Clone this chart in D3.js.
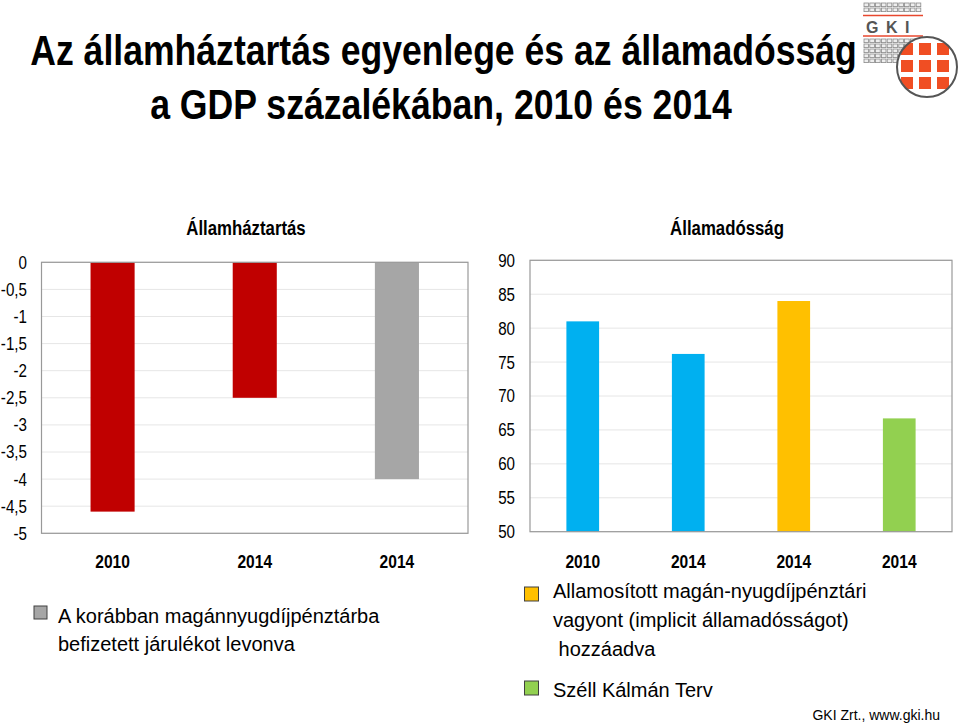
<!DOCTYPE html>
<html><head><meta charset="utf-8">
<script src="https://cdn.jsdelivr.net/npm/d3@7"></script>
<style>
body{margin:0;background:#fff;}
svg{display:block;}
text{font-family:"Liberation Sans",Arial,sans-serif;}
</style></head>
<body>
<svg id="c" width="960" height="723"></svg>
<script>
// ---- data ----
const titleLines = ["Az államháztartás egyenlege és az államadósság", "a GDP százalékában, 2010 és 2014"];
const balanceTitle = "Államháztartás";
const balanceCats = ["2010", "2014", "2014 "];
const balanceValues = [-4.6, -2.5, -4.0];
const balanceColors = ["#c00000", "#c00000", "#a6a6a6"];
const balanceTicks = [0, -0.5, -1, -1.5, -2, -2.5, -3, -3.5, -4, -4.5, -5];

const debtTitle = "Államadósság";
const debtCats = ["2010", "2014", "2014 ", "2014  "];
const debtValues = [81.0, 76.2, 84.0, 66.7];
const debtColors = ["#00b0f0", "#00b0f0", "#ffc000", "#92d050"];
const debtTicks = [50, 55, 60, 65, 70, 75, 80, 85, 90];

const legendLeft = {color: "#a6a6a6", lines: ["A korábban magánnyugdíjpénztárba", "befizetett járulékot levonva"]};
const legendRight = [
  {color: "#ffc000", lines: ["Allamosított magán-nyugdíjpénztári", "vagyont (implicit államadósságot)", " hozzáadva"]},
  {color: "#92d050", lines: ["Széll Kálmán Terv"]}
];
const footer = "GKI Zrt., www.gki.hu";

const svg = d3.select("#c");
const fmt = v => String(v).replace(".", ",");
const NARROW = 0.82;

// ---- title (condensed via horizontal scale to the reference width) ----
const titleLen = [827, 582];
const titleX = [443.5, 441];
svg.append("g").selectAll("text").data(titleLines).join("text")
  .attr("text-anchor", "middle")
  .attr("font-size", 42).attr("font-weight", "bold").attr("fill", "#000")
  .text(d => d)
  .each(function(d, i) {
    const w = this.getComputedTextLength();
    const s = titleLen[i] / w;
    d3.select(this).attr("transform", `translate(${titleX[i]},${65 + i * 54}) scale(${s},1)`);
  });

// ---- generic bar panel ----
function panel(opts) {
  const g = svg.append("g");
  const x = d3.scaleBand().domain(opts.cats).range([opts.x0, opts.x1]).paddingInner(0.69).paddingOuter(0.345);
  const y = d3.scaleLinear().domain(opts.domain).range([opts.yb, opts.yt]);
  // grid
  g.append("g").selectAll("line").data(opts.ticks).join("line")
    .attr("x1", opts.x0).attr("x2", opts.x1)
    .attr("y1", d => y(d)).attr("y2", d => y(d))
    .attr("stroke", "#e6e6e6").attr("stroke-width", 1);
  // bars
  g.append("g").selectAll("rect").data(opts.values).join("rect")
    .attr("x", (d, i) => x(opts.cats[i]))
    .attr("width", x.bandwidth())
    .attr("y", d => Math.min(y(d), y(opts.base)))
    .attr("height", d => Math.abs(y(d) - y(opts.base)))
    .attr("fill", (d, i) => opts.colors[i]);
  // frame
  g.append("rect").attr("x", opts.x0).attr("y", opts.yt).attr("width", opts.x1 - opts.x0).attr("height", opts.yb - opts.yt)
    .attr("fill", "none").attr("stroke", "#999").attr("stroke-width", 1.2);
  // y axis
  const ya = d3.axisLeft(y).tickValues(opts.ticks).tickSize(0).tickPadding(0).tickFormat(fmt);
  const yg = g.append("g").attr("transform", `translate(${opts.labelX},0)`).call(ya);
  yg.select(".domain").remove();
  yg.attr("font-family", null).attr("font-size", null);
  yg.selectAll("text").attr("font-size", 18.5).attr("fill", "#000").attr("transform", `scale(${NARROW},1)`);
  // x axis
  const xa = d3.axisBottom(x).tickSize(0).tickPadding(0);
  const xg = g.append("g").attr("transform", `translate(0,${opts.catY})`).call(xa);
  xg.select(".domain").remove();
  xg.attr("font-family", null).attr("font-size", null);
  xg.selectAll("text").attr("font-size", 19).attr("font-weight", "bold").attr("fill", "#000")
    .attr("dy", null).attr("transform", `scale(${NARROW},1)`);
  // title
  g.append("text").attr("transform", `translate(${opts.titleX},235) scale(0.8,1)`)
    .attr("text-anchor", "middle").attr("font-size", 21).attr("font-weight", "bold").text(opts.title);
}

panel({cats: balanceCats, values: balanceValues, colors: balanceColors, ticks: balanceTicks,
  domain: [-5, 0], base: 0, x0: 41.5, x1: 468, yt: 262.3, yb: 533.3, labelX: 27,
  catY: 568, title: balanceTitle, titleX: 246});
panel({cats: debtCats, values: debtValues, colors: debtColors, ticks: debtTicks,
  domain: [50, 90], base: 50, x0: 530, x1: 952, yt: 260.3, yb: 531.7, labelX: 515,
  catY: 568, title: debtTitle, titleX: 727});

// ---- legends ----
const lg = svg.append("g");
lg.append("rect").attr("x", 34).attr("y", 606).attr("width", 13).attr("height", 13)
  .attr("fill", legendLeft.color).attr("stroke", "#404040").attr("stroke-width", 1);
lg.selectAll("text.l").data(legendLeft.lines).join("text")
  .attr("x", 58).attr("y", (d, i) => 623 + i * 28).attr("font-size", 20).attr("fill", "#000").text(d => d);

legendRight.forEach((item, k) => {
  const top = k === 0 ? 587 : 681;
  lg.append("rect").attr("x", 524.5).attr("y", top).attr("width", 14).attr("height", 14)
    .attr("fill", item.color).attr("stroke", "#404040").attr("stroke-width", 1);
  item.lines.forEach((t, i) => {
    lg.append("text").attr("x", 553).attr("y", (k === 0 ? 598 : 697) + i * 29)
      .attr("font-size", 20).attr("fill", "#000").style("white-space", "pre").text(t);
  });
});

svg.append("text").attr("x", 940).attr("y", 720).attr("text-anchor", "end")
  .attr("font-size", 14).attr("fill", "#000").text(footer);

// ---- logo ----
const logo = svg.append("g");
function grid(y0, rows) {
  for (let r = 0; r < rows; r++) for (let c = 0; c < 10; c++)
    logo.append("rect").attr("x", 864 + c * 5.8).attr("y", y0 + r * 5).attr("width", 4.6).attr("height", 3.6)
      .attr("fill", "#eee").attr("stroke", "#8a8a8a").attr("stroke-width", 0.8);
}
grid(3, 2);
logo.append("line").attr("x1", 863).attr("x2", 923).attr("y1", 15.5).attr("y2", 15.5).attr("stroke", "#e8472e").attr("stroke-width", 1.5);
logo.append("text").attr("x", 866).attr("y", 33).attr("font-family", "DejaVu Sans, sans-serif")
  .attr("font-weight", "bold").attr("font-size", 16).attr("fill", "#555")
  .attr("letter-spacing", 7.5).text("GKI");
logo.append("line").attr("x1", 863).attr("x2", 923).attr("y1", 36).attr("y2", 36).attr("stroke", "#e8472e").attr("stroke-width", 1.5);
grid(39, 5);
const clip = svg.append("defs").append("clipPath").attr("id", "cc");
clip.append("circle").attr("cx", 927).attr("cy", 67).attr("r", 30);
logo.append("circle").attr("cx", 927).attr("cy", 67).attr("r", 30).attr("fill", "#fff");
const lc = logo.append("g").attr("clip-path", "url(#cc)");
for (let r = 0; r < 3; r++) for (let c = 0; c < 3; c++)
  lc.append("rect").attr("x", 901 + c * 18).attr("y", 43 + r * 17).attr("width", 12).attr("height", 12).attr("fill", "#f04e23");
logo.append("circle").attr("cx", 927).attr("cy", 67).attr("r", 30).attr("fill", "none").attr("stroke", "#555").attr("stroke-width", 2);
</script>
</body></html>
